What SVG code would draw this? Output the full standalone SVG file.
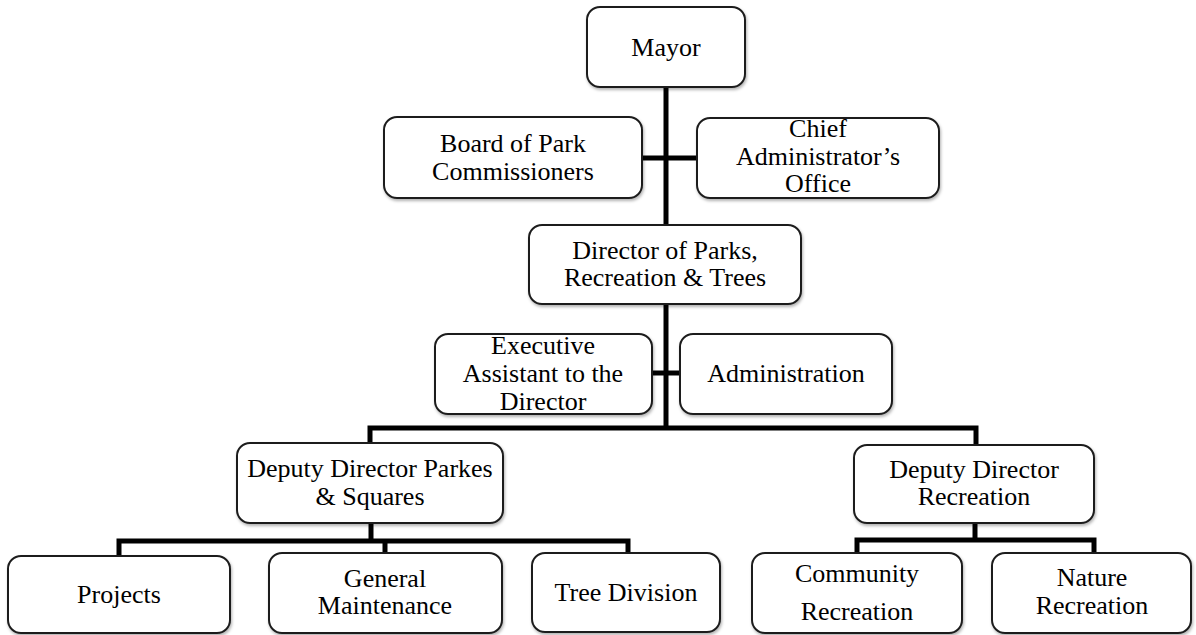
<svg xmlns="http://www.w3.org/2000/svg" width="1196" height="635" viewBox="0 0 1196 635">
  <style>
    .box { fill: #ffffff; stroke: #1e1e1e; stroke-width: 2; filter: url(#shadow); }
    .lbl { font-family: "Liberation Serif", "Times New Roman", serif; font-size: 26px; fill: #000; text-anchor: middle; }
    .wire { fill: none; stroke: #000; stroke-width: 5; stroke-linejoin: miter; stroke-linecap: butt; }
  </style>
  <defs>
    <filter id="shadow" x="-5%" y="-5%" width="112%" height="120%">
      <feDropShadow dx="1" dy="2" stdDeviation="1.5" flood-color="#000" flood-opacity="0.3"/>
    </filter>
  </defs>
  <rect width="1196" height="635" fill="#ffffff"/>

  <!-- connectors -->
  <g id="connectors">
    <line class="wire" x1="666" y1="87" x2="666" y2="225"/>
    <line class="wire" x1="642" y1="158" x2="697" y2="158"/>
    <line class="wire" x1="666" y1="304" x2="666" y2="430"/>
    <line class="wire" x1="652" y1="373" x2="680" y2="373"/>
    <polyline class="wire" points="370,443 370,428 976,428 976,445"/>
    <line class="wire" x1="371" y1="523" x2="371" y2="541"/>
    <polyline class="wire" points="119,556 119,541 628,541 628,553"/>
    <line class="wire" x1="385" y1="541" x2="385" y2="553"/>
    <line class="wire" x1="975" y1="523" x2="975" y2="540"/>
    <polyline class="wire" points="857,553 857,540 1094,540 1094,553"/>
  </g>

  <g id="mayor">
    <rect class="box" x="587" y="7" width="158" height="80" rx="13"/>
    <text class="lbl" x="666" y="56">Mayor</text>
  </g>

  <g id="board">
    <rect class="box" x="384" y="117" width="258" height="81" rx="13"/>
    <text class="lbl" x="513" y="152">Board of Park</text>
    <text class="lbl" x="513" y="180">Commissioners</text>
  </g>

  <g id="chief-admin">
    <rect class="box" x="697" y="118" width="242" height="80" rx="13"/>
    <text class="lbl" x="818" y="137">Chief</text>
    <text class="lbl" x="818" y="165">Administrator’s</text>
    <text class="lbl" x="818" y="192">Office</text>
  </g>

  <g id="director">
    <rect class="box" x="529" y="225" width="272" height="79" rx="13"/>
    <text class="lbl" x="665" y="259">Director of Parks,</text>
    <text class="lbl" x="665" y="286">Recreation &amp; Trees</text>
  </g>

  <g id="exec-assistant">
    <rect class="box" x="435" y="334" width="217" height="80" rx="13"/>
    <text class="lbl" x="543" y="354">Executive</text>
    <text class="lbl" x="543" y="382">Assistant to the</text>
    <text class="lbl" x="543" y="410">Director</text>
  </g>

  <g id="administration">
    <rect class="box" x="680" y="334" width="212" height="80" rx="13"/>
    <text class="lbl" x="786" y="382">Administration</text>
  </g>

  <g id="deputy-parks">
    <rect class="box" x="237" y="443" width="266" height="80" rx="13"/>
    <text class="lbl" x="370" y="477">Deputy Director Parkes</text>
    <text class="lbl" x="370" y="505">&amp; Squares</text>
  </g>

  <g id="deputy-recreation">
    <rect class="box" x="854" y="445" width="240" height="78" rx="13"/>
    <text class="lbl" x="974" y="478">Deputy Director</text>
    <text class="lbl" x="974" y="505">Recreation</text>
  </g>

  <g id="projects">
    <rect class="box" x="8" y="556" width="222" height="77" rx="13"/>
    <text class="lbl" x="119" y="603">Projects</text>
  </g>

  <g id="general-maintenance">
    <rect class="box" x="269" y="553" width="233" height="80" rx="13"/>
    <text class="lbl" x="385" y="587">General</text>
    <text class="lbl" x="385" y="614">Maintenance</text>
  </g>

  <g id="tree-division">
    <rect class="box" x="532" y="553" width="188" height="79" rx="13"/>
    <text class="lbl" x="626" y="601">Tree Division</text>
  </g>

  <g id="community-recreation">
    <rect class="box" x="752" y="553" width="210" height="80" rx="13"/>
    <text class="lbl" x="857" y="582">Community</text>
    <text class="lbl" x="857" y="620">Recreation</text>
  </g>

  <g id="nature-recreation">
    <rect class="box" x="992" y="553" width="199" height="80" rx="13"/>
    <text class="lbl" x="1092" y="586">Nature</text>
    <text class="lbl" x="1092" y="614">Recreation</text>
  </g>
</svg>
